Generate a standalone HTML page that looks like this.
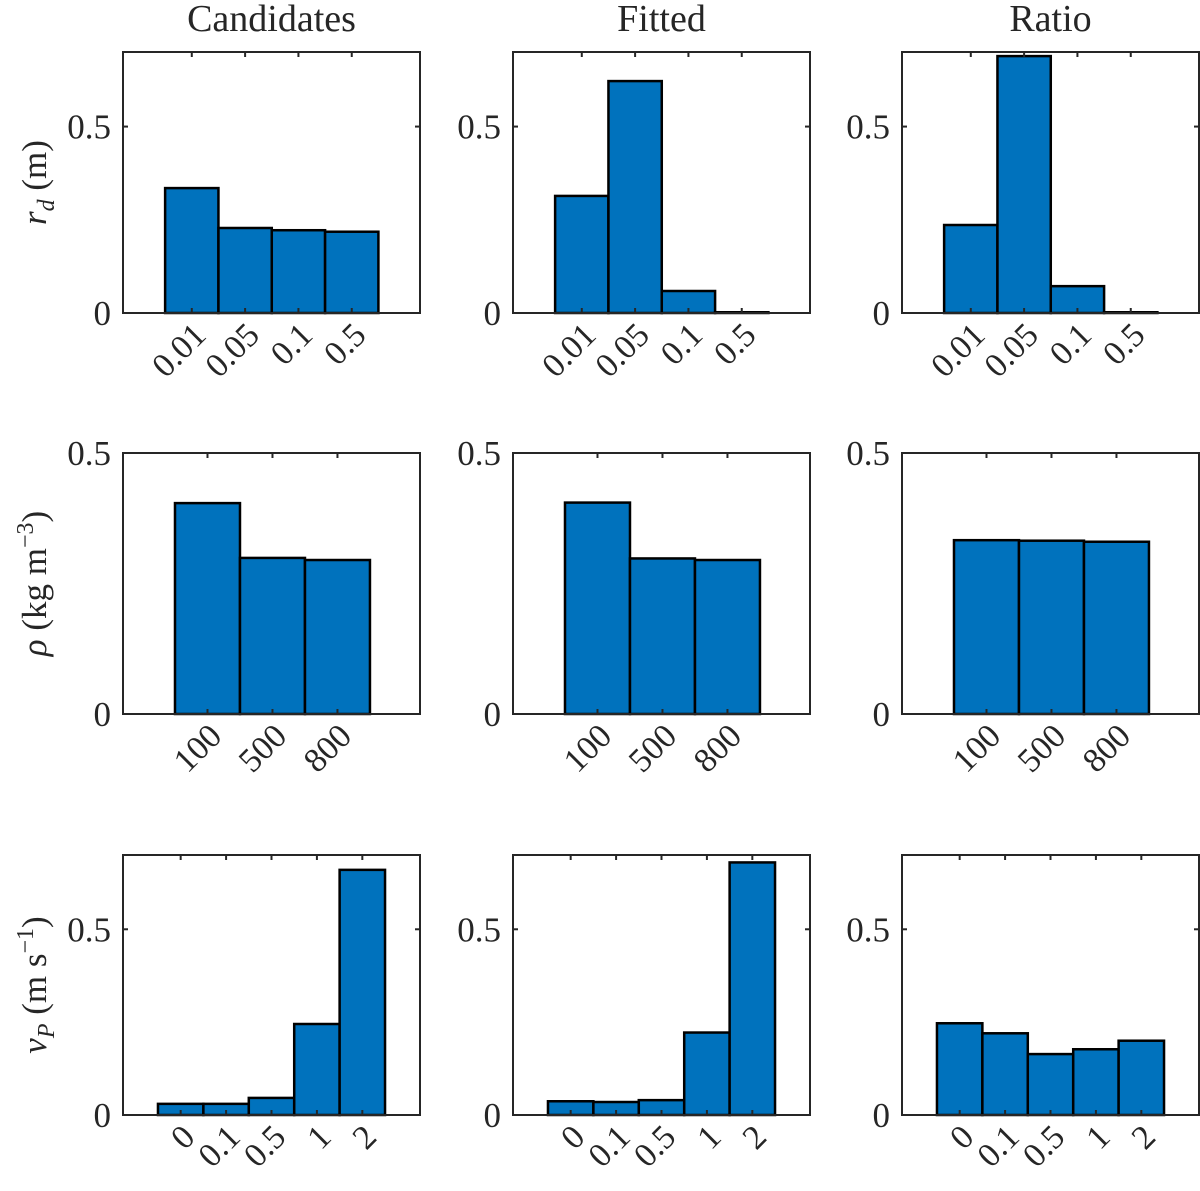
<!DOCTYPE html>
<html><head><meta charset="utf-8">
<style>
body{margin:0;background:#fff;}
svg text{font-family:"Liberation Serif","DejaVu Serif",serif;fill:#262626;}
</style></head>
<body>
<svg id="fig" width="1200" height="1186" viewBox="0 0 1200 1186" xmlns="http://www.w3.org/2000/svg"></svg>
<script>
const colTitles = ["Candidates","Fitted","Ratio"];
const rdCats = ["0.01","0.05","0.1","0.5"];
const rhoCats = ["100","500","800"];
const vpCats = ["0","0.1","0.5","1","2"];
const rdCandidates = [0.335,0.228,0.222,0.218];
const rdFitted = [0.314,0.622,0.059,0.002];
const rdRatio = [0.236,0.689,0.072,0.002];
const rhoCandidates = [0.404,0.299,0.295];
const rhoFitted = [0.405,0.298,0.295];
const rhoRatio = [0.333,0.332,0.330];
const vpCandidates = [0.030,0.030,0.046,0.245,0.660];
const vpFitted = [0.037,0.035,0.040,0.222,0.680];
const vpRatio = [0.247,0.220,0.164,0.177,0.200];
const yTicks = ["0","0.5"];
const yTickVals = [0,0.5];

const NS="http://www.w3.org/2000/svg";
const svg=document.getElementById('fig');
function mk(tag,attrs,parent){const e=document.createElementNS(NS,tag);for(const k in attrs)e.setAttribute(k,attrs[k]);(parent||svg).appendChild(e);return e;}

const colX=[123,513,902], colW=297;
const rows=[
 {top:52,bottom:313,ymax:0.7,cats:rdCats,data:[rdCandidates,rdFitted,rdRatio],xmin:-0.29,xmax:5.28,name:'rd'},
 {top:453,bottom:714,ymax:0.5,cats:rhoCats,data:[rhoCandidates,rhoFitted,rhoRatio],xmin:-0.3,xmax:4.27,name:'rho'},
 {top:855,bottom:1115,ymax:0.7,cats:vpCats,data:[vpCandidates,vpFitted,vpRatio],xmin:-0.27,xmax:6.27,name:'vp'}
];

colTitles.forEach((t,c)=>{
  const e=mk('text',{x:colX[c]+colW/2,y:31,'text-anchor':'middle','font-size':38});
  e.textContent=t;
  
  
});

rows.forEach((r,ri)=>{
  r.data.forEach((vals,c)=>{
    const x0=colX[c], x1=x0+colW;
    const g=mk('g',{});
    
    
    const sx=v=>x0+(v-r.xmin)/(r.xmax-r.xmin)*colW;
    const sy=v=>r.bottom-v/r.ymax*(r.bottom-r.top);
    vals.forEach((v,i)=>{
      const xa=sx(i+0.5), xb=sx(i+1.5);
      const b=mk('rect',{x:xa,y:sy(v),width:xb-xa,height:r.bottom-sy(v),fill:'#0072BD',stroke:'#000','stroke-width':2.5},g);
      
      
    });
    mk('rect',{x:x0,y:r.top,width:colW,height:r.bottom-r.top,fill:'none',stroke:'#262626','stroke-width':2},g);
    yTickVals.forEach((v,k)=>{
      const y=sy(v);
      mk('line',{x1:x0,x2:x0+5,y1:y,y2:y,stroke:'#262626','stroke-width':2},g);
      mk('line',{x1:x1,x2:x1-5,y1:y,y2:y,stroke:'#262626','stroke-width':2},g);
      const t=mk('text',{x:x0-12,y:y+12,'text-anchor':'end','font-size':35},g);
      t.textContent=yTicks[k];
      
      
    });
    r.cats.forEach((cat,i)=>{
      const x=sx(i+1);
      mk('line',{x1:x,x2:x,y1:r.bottom,y2:r.bottom-5,stroke:'#262626','stroke-width':2},g);
      mk('line',{x1:x,x2:x,y1:r.top,y2:r.top+5,stroke:'#262626','stroke-width':2},g);
      const tx=x+16, ty=r.bottom+24;
      const t=mk('text',{x:tx,y:ty,'text-anchor':'end','font-size':34,transform:`rotate(-45 ${tx} ${ty})`},g);
      t.textContent=cat;
      
      
    });
  });
  const cy=(r.top+r.bottom)/2, lx=46;
  const yl=mk('text',{x:lx,y:cy,'text-anchor':'middle','font-size':35,transform:`rotate(-90 ${lx} ${cy})`});
  
  
  if(r.name==='rd'){
    yl.innerHTML='<tspan font-style="italic">r</tspan><tspan font-style="italic" font-size="24" dy="8">d</tspan><tspan dy="-8">  (m)</tspan>';
  }else if(r.name==='rho'){
    yl.innerHTML='<tspan font-style="italic">ρ</tspan><tspan>  (kg m</tspan><tspan font-size="24" dy="-13">−3</tspan><tspan dy="13">)</tspan>';
  }else{
    yl.innerHTML='<tspan font-style="italic">v</tspan><tspan font-style="italic" font-size="24" dy="8">P</tspan><tspan dy="-8">  (m s</tspan><tspan font-size="24" dy="-13">−1</tspan><tspan dy="13">)</tspan>';
  }
});
</script>
</body></html>
